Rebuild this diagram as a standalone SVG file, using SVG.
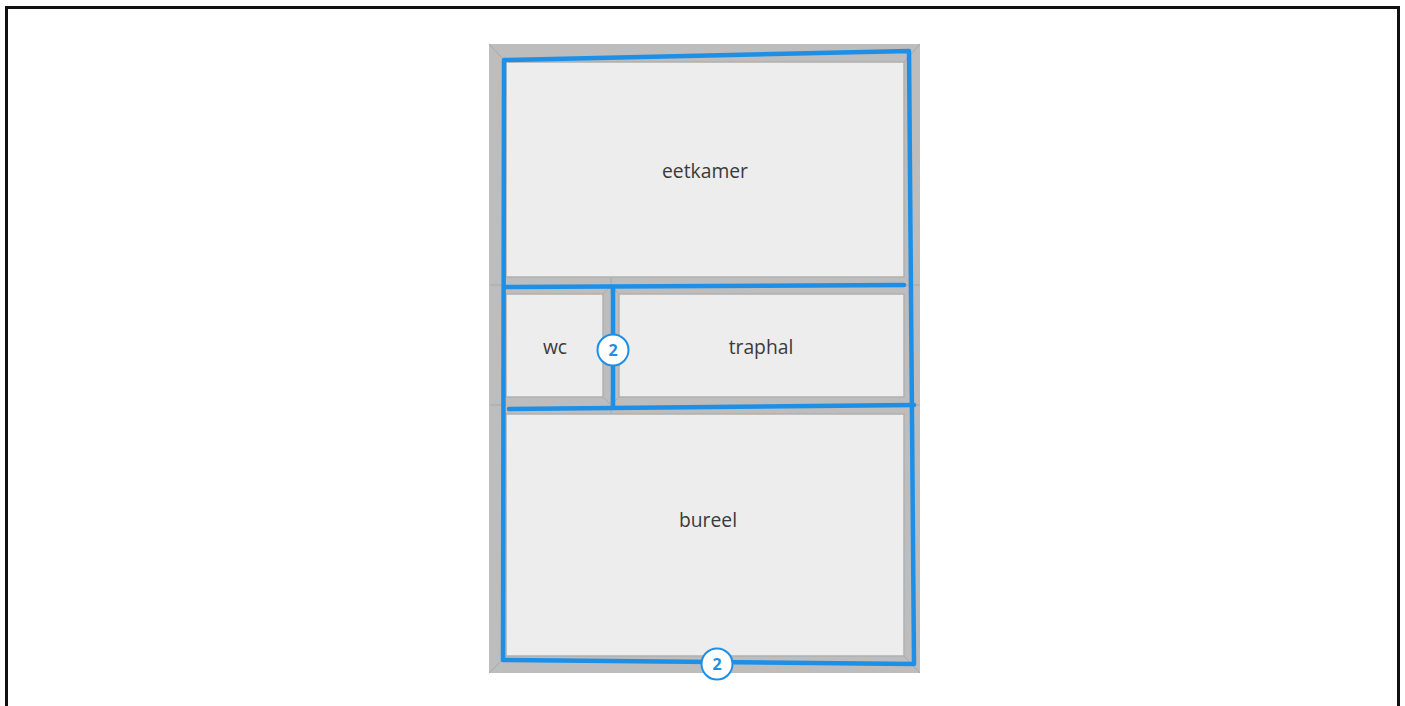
<svg xmlns="http://www.w3.org/2000/svg" width="1405" height="706" viewBox="0 0 1405 706">
<style>
.room{fill:#ededed;stroke:#b0b0b0;stroke-width:1.500}
.seam{fill:none;stroke:#a8a8a8;stroke-width:1}
.wire{fill:none;stroke:#1e8fe6;stroke-width:4.500;stroke-linecap:round;stroke-linejoin:round}
.lbl{font-family:"Open Sans","DejaVu Sans",sans-serif;font-size:19.300px;fill:#3a3a3a;text-anchor:middle}
.badge{fill:#fff;stroke:#1e8fe6;stroke-width:2}
.num{font-family:"Open Sans","Liberation Sans",sans-serif;font-size:16px;font-weight:700;fill:#1e8fe6;text-anchor:middle}
</style>
<rect width="1405" height="706" fill="#fff"/>
<path d="M6.500 706V7.500H1398.500V706" fill="none" stroke="#111" stroke-width="3"/>
<g id="plan">
<rect x="489" y="44" width="431" height="629" fill="#bdbdbd"/>
<path class="seam" d="M489 44L506 62M920 44L904 62M489 673L506 656M920 673L904 656M490 285H506M904 285H920M490 405H506M904 405H920M611 277V294M611 397V414M603 294L611 286M619 294L611 286M603 397L611 405M619 397L611 405"/>
</g>
<g id="room-eetkamer"><rect class="room" x="506" y="62" width="398" height="215"/><text class="lbl" x="705" y="178">eetkamer</text></g>
<g id="room-wc"><rect class="room" x="506" y="294" width="97" height="103"/><text class="lbl" x="555" y="354">wc</text></g>
<g id="room-traphal"><rect class="room" x="619" y="294" width="285" height="103"/><text class="lbl" x="761" y="354">traphal</text></g>
<g id="room-bureel"><rect class="room" x="506" y="414" width="398" height="242"/><text class="lbl" x="708" y="527">bureel</text></g>
<g id="connectors">
<path class="wire" d="M504 60L909 51L914 664L503 660Z"/>
<path class="wire" d="M504 287L904 285"/>
<path class="wire" d="M613 287V407"/>
<path class="wire" d="M509 409L914 405"/>
</g>
<g id="badge-1"><circle class="badge" cx="613" cy="350" r="15.500"/><text class="num" x="613" y="356">2</text></g>
<g id="badge-2"><circle class="badge" cx="717" cy="664" r="15.500"/><text class="num" x="717" y="670">2</text></g>
</svg>
